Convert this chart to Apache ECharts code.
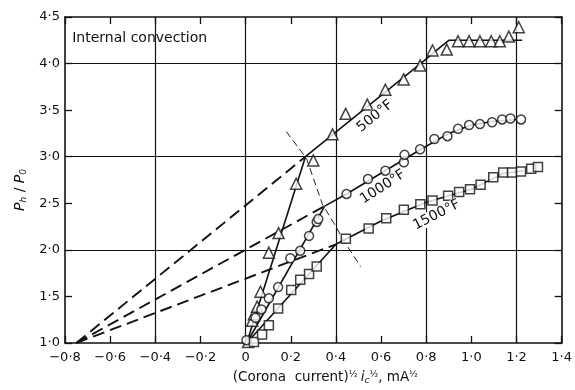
<!DOCTYPE html>
<html>
<head>
<meta charset="utf-8">
<script src="https://cdn.jsdelivr.net/npm/echarts@6/dist/echarts.min.js"></script>
<style>html,body{margin:0;padding:0;background:#fff;}#c{width:575px;height:390px;}</style>
</head>
<body>
<div id="c"></div>
<script>
// ---- data ----
const xMin = -0.8, xMax = 1.4, xStep = 0.2;
const yMin = 1.0, yMax = 4.5, yStep = 0.5;
const gridX = [-0.4, 0, 0.4, 0.8, 1.2];
const gridY = [2, 3, 4];

const tri500 = [[0.011,1.01],[0.029,1.24],[0.037,1.31],[0.051,1.39],[0.066,1.55],[0.103,1.97],[0.146,2.18],[0.224,2.71],[0.30,2.96],[0.385,3.24],[0.443,3.46],[0.539,3.56],[0.619,3.72],[0.700,3.83],[0.773,3.98],[0.828,4.14],[0.891,4.15],[0.941,4.24],[0.99,4.24],[1.038,4.24],[1.088,4.24],[1.126,4.24],[1.166,4.29],[1.21,4.39]];
const circ1000 = [[0.004,1.03],[0.007,0.99],[0.044,1.27],[0.070,1.36],[0.103,1.48],[0.144,1.60],[0.198,1.91],[0.242,1.99],[0.281,2.15],[0.315,2.30],[0.322,2.33],[0.447,2.60],[0.542,2.76],[0.619,2.85],[0.701,2.94],[0.704,3.02],[0.773,3.08],[0.836,3.19],[0.894,3.22],[0.941,3.30],[0.99,3.34],[1.038,3.35],[1.092,3.37],[1.136,3.40],[1.173,3.41],[1.22,3.40]];
const sq1500 = [[0.007,0.99],[0.037,1.01],[0.073,1.09],[0.103,1.19],[0.144,1.37],[0.202,1.57],[0.242,1.68],[0.281,1.74],[0.315,1.82],[0.444,2.12],[0.545,2.23],[0.623,2.34],[0.701,2.43],[0.774,2.49],[0.828,2.53],[0.897,2.58],[0.946,2.62],[0.994,2.65],[1.041,2.70],[1.097,2.78],[1.141,2.83],[1.18,2.83],[1.22,2.84],[1.265,2.87],[1.295,2.89]];

const line500Steep = [[0.005,1.0],[0.265,3.0]];
const line500Upper = [[0.265,3.0],[0.79,4.03],[0.86,4.17],[0.90,4.25],[1.225,4.25]];
const dash500 = [[-0.75,1.0],[0.265,3.0]];
const line1000Steep = [[0.005,1.0],[0.35,2.47]];
const line1000Upper = [[0.35,2.47],[0.447,2.60],[0.777,3.08],[0.90,3.25],[1.0,3.34],[1.1,3.38],[1.2,3.40]];
const dash1000 = [[-0.75,1.0],[0.35,2.47]];
const line1500Steep = [[0.005,1.0],[0.40,2.06]];
const line1500Upper = [[0.40,2.06],[0.6,2.31],[0.8,2.51],[1.0,2.65],[1.1,2.77],[1.14,2.82],[1.23,2.85]];
const dash1500 = [[-0.75,1.0],[0.40,2.06]];
const locus = [[0.18,3.27],[0.27,2.98],[0.34,2.49],[0.39,2.29],[0.45,2.04],[0.51,1.82]];

const annotations = [
  {text: 'Internal convection', at: [-0.768, 4.27], rot: 0, size: 14, align: 'left'},
  {text: '500°F', at: [0.573, 3.435], rot: 39, size: 14, align: 'center'},
  {text: '1000°F', at: [0.608, 2.675], rot: 33, size: 14, align: 'center'},
  {text: '1500°F', at: [0.846, 2.375], rot: 27, size: 14, align: 'center'}
];

// ---- chart ----
const FONT = 'DejaVu Sans';
const INK = '#111';
const fmt = v => {
  if (Math.abs(v) < 1e-9) return '0';
  const s = Math.abs(v).toFixed(1).replace('.', '·');
  return (v < 0 ? '−' : '') + s;
};
const chart = echarts.init(document.getElementById('c'), null, {renderer: 'canvas'});

function lineSeries(data, dashed, width) {
  return {
    type: 'line', data: data, xAxisIndex: 0, yAxisIndex: 0,
    symbol: 'none', silent: true, animation: false, z: 3,
    lineStyle: {color: INK, width: width || (dashed ? 1.9 : 1.6), type: dashed ? [12, 6] : 'solid'}
  };
}
function scatterSeries(data, symbol, size) {
  return {
    type: 'scatter', data: data, symbol: symbol, symbolSize: size, z: 5,
    itemStyle: {color: '#fff', borderColor: INK, borderWidth: 1.5}, animation: false
  };
}

function axisCommon() {
  return {
    axisLine: {show: true, onZero: false, lineStyle: {color: INK, width: 1.6}},
    axisTick: {show: true, inside: true, length: 7, lineStyle: {color: INK, width: 1.3}},
    splitLine: {show: false}
  };
}

chart.setOption({
  animation: false,
  backgroundColor: '#fff',
  grid: {left: 65, right: 10.5, top: 17, bottom: 46},
  xAxis: [
    Object.assign({
      type: 'value', min: xMin, max: xMax, interval: xStep, position: 'bottom',
      axisLabel: {formatter: fmt, fontFamily: FONT, fontSize: 13, color: INK, margin: 8},
      name: '{p|(Corona  current)}{s|½} {i|i}{c|c}{s|½}{p|, mA}{s|½}',
      nameLocation: 'middle', nameGap: 27,
      nameTextStyle: {
        padding: [0, 0, 0, 24],
        rich: {
          p: {fontFamily: FONT, fontSize: 13.5, color: INK},
          s: {fontFamily: FONT, fontSize: 9, color: INK, verticalAlign: 'top', padding: [0,0,6,0]},
          i: {fontFamily: FONT, fontSize: 13.5, fontStyle: 'italic', color: INK},
          c: {fontFamily: FONT, fontSize: 9, fontStyle: 'italic', color: INK, verticalAlign: 'bottom', padding: [6,0,0,0]}
        }
      }
    }, axisCommon()),
    Object.assign({
      type: 'value', min: xMin, max: xMax, interval: xStep, position: 'top',
      axisLabel: {show: false}
    }, axisCommon())
  ],
  yAxis: [
    Object.assign({
      type: 'value', min: yMin, max: yMax, interval: yStep, position: 'left',
      axisLabel: {formatter: fmt, fontFamily: FONT, fontSize: 13, color: INK, margin: 5},
      name: '{i|P}{s|h}{n| / }{i|P}{s|0}',
      nameLocation: 'middle', nameGap: 37, nameRotate: 90,
      nameTextStyle: {
        padding: [0, 20, 0, 0],
        rich: {
          i: {fontFamily: FONT, fontSize: 14, fontStyle: 'italic', color: INK},
          n: {fontFamily: FONT, fontSize: 14, color: INK},
          s: {fontFamily: FONT, fontSize: 9, fontStyle: 'italic', color: INK, verticalAlign: 'bottom', padding: [6,0,0,0]}
        }
      }
    }, axisCommon()),
    Object.assign({
      type: 'value', min: yMin, max: yMax, interval: yStep, position: 'right',
      axisLabel: {show: false}
    }, axisCommon())
  ],
  series: [
    {
      type: 'line', data: [], silent: true, z: 1,
      markLine: {
        silent: true, symbol: ['none', 'none'], animation: false,
        label: {show: false},
        lineStyle: {color: INK, width: 1.2, type: 'solid'},
        data: gridX.map(v => ({xAxis: v})).concat(gridY.map(v => ({yAxis: v})))
      }
    },
    lineSeries(dash500, true),
    lineSeries(dash1000, true),
    lineSeries(dash1500, true),
    lineSeries(line500Steep),
    lineSeries(line500Upper),
    lineSeries(line1000Steep),
    lineSeries(line1000Upper),
    lineSeries(line1500Steep),
    lineSeries(line1500Upper),
    {
      type: 'line', data: locus, symbol: 'none', silent: true, z: 2,
      lineStyle: {color: '#222', width: 1, type: [7, 4]}
    },
    scatterSeries(tri500, 'triangle', 11),
    scatterSeries(circ1000, 'circle', 9),
    scatterSeries(sq1500, 'rect', 9)
  ]
});

const graphics = annotations.map(a => {
  const p = chart.convertToPixel({xAxisIndex: 0, yAxisIndex: 0}, a.at);
  return {
    type: 'text', x: p[0], y: p[1], rotation: a.rot * Math.PI / 180, z: 10,
    style: {
      text: a.text, fontFamily: FONT, fontSize: a.size, fill: INK,
      align: a.align, verticalAlign: 'middle',
      backgroundColor: a.align === 'center' ? '#fff' : 'transparent'
    }
  };
});
chart.setOption({graphic: graphics});
</script>
</body>
</html>
